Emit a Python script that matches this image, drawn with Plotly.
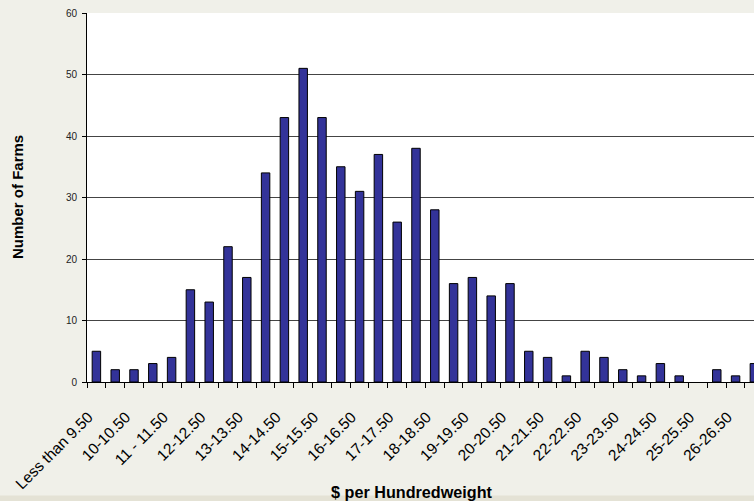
import plotly.graph_objects as go

categories = [
    "Less than 9.50", "9.50-10", "10-10.50", "10.50-11", "11 - 11.50", "11.50-12",
    "12-12.50", "12.50-13", "13-13.50", "13.50-14", "14-14.50", "14.50-15",
    "15-15.50", "15.50-16", "16-16.50", "16.50-17", "17-17.50", "17.50-18",
    "18-18.50", "18.50-19", "19-19.50", "19.50-20", "20-20.50", "20.50-21",
    "21-21.50", "21.50-22", "22-22.50", "22.50-23", "23-23.50", "23.50-24",
    "24-24.50", "24.50-25", "25-25.50", "25.50-26", "26-26.50", "26.50-27",
]
farms = [5, 2, 2, 3, 4, 15, 13, 22, 17, 34, 43, 51, 43, 35, 31, 37, 26, 38,
         28, 16, 17, 14, 16, 5, 4, 1, 5, 4, 2, 1, 3, 1, 0, 2, 1, 3]
tick_labels = [c if i % 2 == 0 else "" for i, c in enumerate(categories)]
y_ticks = [0, 10, 20, 30, 40, 50, 60]

FONT = "Arial, 'Liberation Sans', sans-serif"

fig = go.Figure(go.Bar(
    x=categories, y=farms,
    marker=dict(color="#333399",
                line=dict(color="#000000",
                          width=[1 if v > 0 else 0 for v in farms])),
))

fig.update_layout(
    width=754, height=501,
    margin=dict(l=87, r=0, t=13, b=119),
    paper_bgcolor="#f0f0e9",
    plot_bgcolor="#ffffff",
    bargap=0.55,
    showlegend=False,
    font=dict(family=FONT, color="#000000"),
    xaxis=dict(
        type="category",
        range=[-0.5, 34.98],
        tickmode="array", tickvals=categories,
        ticktext=[t + "\u00a0" if t else "" for t in tick_labels],
        tickson="boundaries", ticks="outside", ticklen=5, tickcolor="#000000",
        tickangle=-45, tickfont=dict(size=15.5, family=FONT, color="#000000"),
        ticklabelstandoff=16, ticklabelshift=-5,
        showgrid=False, showline=True, linecolor="#000000", linewidth=1,
    ),
    yaxis=dict(
        range=[0, 60], tickvals=y_ticks,
        ticks="outside", ticklen=4, tickcolor="#000000",
        tickfont=dict(size=10, family=FONT, color="#222222"),
        ticklabelstandoff=3,
        showgrid=True, gridcolor="#444444", gridwidth=1,
        showline=True, linecolor="#000000", linewidth=1,
        zeroline=False,
    ),
    shapes=[dict(type="rect", xref="paper", yref="paper",
                 x0=-0.2, x1=1.1, y0=-0.3075, y1=-0.4,
                 fillcolor="#e4e2d5", line=dict(width=0), layer="below")],
    annotations=[
        dict(text="<b>Number of Farms</b>", textangle=-90,
             xref="paper", yref="paper", x=(17.5 - 87) / 667, y=0.5,
             xanchor="center", yanchor="middle", showarrow=False,
             font=dict(size=15, family=FONT, color="#000000")),
        dict(text="<b>$ per Hundredweight</b>",
             xref="paper", yref="paper", x=(411.5 - 87) / 667, y=-0.2986,
             xanchor="center", yanchor="middle", showarrow=False,
             font=dict(size=16.2, family=FONT, color="#000000")),
    ],
)

fig.write_html(
    "out.html",
    config={"displayModeBar": False},
    post_script="document.body.style.margin='0';document.body.style.overflow='hidden';",
)
